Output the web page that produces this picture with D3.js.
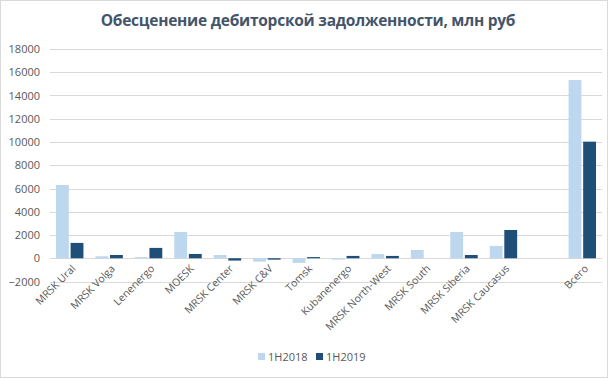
<!DOCTYPE html>
<html>
<head>
<meta charset="utf-8">
<script src="https://cdn.jsdelivr.net/npm/d3@7"></script>
<style>
  body { margin: 0; background: #fff; }
  text { font-family: "Open Sans", sans-serif; }
</style>
</head>
<body>
<div id="chart-area"></div>
<script>
// data
var categories = ["MRSK Ural", "MRSK Volga", "Lenenergo", "MOESK", "MRSK Center", "MRSK C&V",
    "Tomsk", "Kubanenergo", "MRSK North-West", "MRSK South", "MRSK Siberia", "MRSK Caucasus", "", "Всего"];
var seriesNames = ["1H2018", "1H2019"];
var values2018 = [6300, 170, 100, 2260, 280, -290, -400, -120, 370, 710, 2260, 1060, null, 15330];
var values2019 = [1320, 280, 890, 370, -200, -120, 100, 200, 200, 0, 280, 2430, null, 10030];
var yTicks = [-2000, 0, 2000, 4000, 6000, 8000, 10000, 12000, 14000, 16000, 18000];
var colors = ["#bdd7ee", "#1f4e79"];

var W = 616, H = 378;
var margin = {top: 49, right: 14, bottom: 97, left: 50},
    width = 602 - margin.left,
    height = 281.5 - margin.top;

var svg = d3.select("#chart-area").append("svg")
    .attr("width", W)
    .attr("height", H);

// chart border
svg.append("rect")
    .attr("x", 0.5).attr("y", 0.5)
    .attr("width", 607).attr("height", H - 1)
    .attr("fill", "none")
    .attr("stroke", "#d9d9d9");

svg.append("text")
    .attr("x", 308)
    .attr("y", 26)
    .attr("text-anchor", "middle")
    .attr("font-size", "15.5px")
    .attr("font-weight", "bold")
    .attr("fill", "#44546a")
    .attr("letter-spacing", "-0.25px")
    .text("Обесценение дебиторской задолженности, млн руб");

var g = svg.append("g")
    .attr("transform", "translate(" + margin.left + "," + margin.top + ")");

var x = d3.scaleBand().domain(d3.range(categories.length)).range([0, width]).paddingInner(0).paddingOuter(0);
var x1 = d3.scaleBand().domain([0, 1]).range([6, x.bandwidth() - 6]).paddingInner(0.12);
var y = d3.scaleLinear().domain([-2000, 18000]).range([height, 0]);

// gridlines
g.selectAll(".grid")
    .data(yTicks)
    .enter().append("line")
    .attr("x1", 0).attr("x2", width)
    .attr("y1", function(d) { return Math.round(y(d)) + 0.5; })
    .attr("y2", function(d) { return Math.round(y(d)) + 0.5; })
    .attr("stroke", "#d9d9d9")
    .attr("stroke-width", 1);

// y axis labels
var yAxis = g.append("g")
    .call(d3.axisLeft(y).tickValues(yTicks).tickSize(0).tickPadding(10).tickFormat(d3.format("d")));
yAxis.select(".domain").remove();
yAxis.selectAll("text")
    .attr("font-size", "11px")
    .attr("fill", "#595959")
    .style("font-family", "Open Sans, sans-serif");

// bars
var series = [values2018, values2019];
series.forEach(function(vals, s) {
    g.selectAll(".bar" + s)
        .data(vals.map(function(v, i) { return {i: i, v: v}; }).filter(function(d) { return d.v !== null; }))
        .enter().append("rect")
        .attr("x", function(d) { return x(d.i) + x1(s); })
        .attr("width", x1.bandwidth())
        .attr("y", function(d) { return y(Math.max(0, d.v)); })
        .attr("height", function(d) { return Math.abs(y(d.v) - y(0)); })
        .attr("fill", colors[s]);
});

// category labels
var xAxis = g.append("g")
    .attr("transform", "translate(0," + y(0) + ")")
    .call(d3.axisBottom(x).tickSize(0).tickFormat(function(i) { return categories[i]; }));
xAxis.select(".domain").remove();
xAxis.selectAll("text")
    .attr("font-size", "10.5px")
    .attr("fill", "#595959")
    .style("font-family", "Open Sans, sans-serif")
    .style("text-anchor", "end")
    .attr("dx", "-0.3em")
    .attr("dy", "0.9em")
    .attr("transform", "rotate(-45)");

// legend
var legend = svg.append("g").attr("transform", "translate(258,357)");
seriesNames.forEach(function(name, s) {
    legend.append("rect")
        .attr("x", s * 58)
        .attr("y", -4)
        .attr("width", 7)
        .attr("height", 7)
        .attr("fill", colors[s]);
    legend.append("text")
        .attr("x", s * 58 + 10)
        .attr("y", 0)
        .attr("dy", "0.35em")
        .attr("font-size", "11px")
        .attr("fill", "#595959")
        .text(name);
});
</script>
</body>
</html>
